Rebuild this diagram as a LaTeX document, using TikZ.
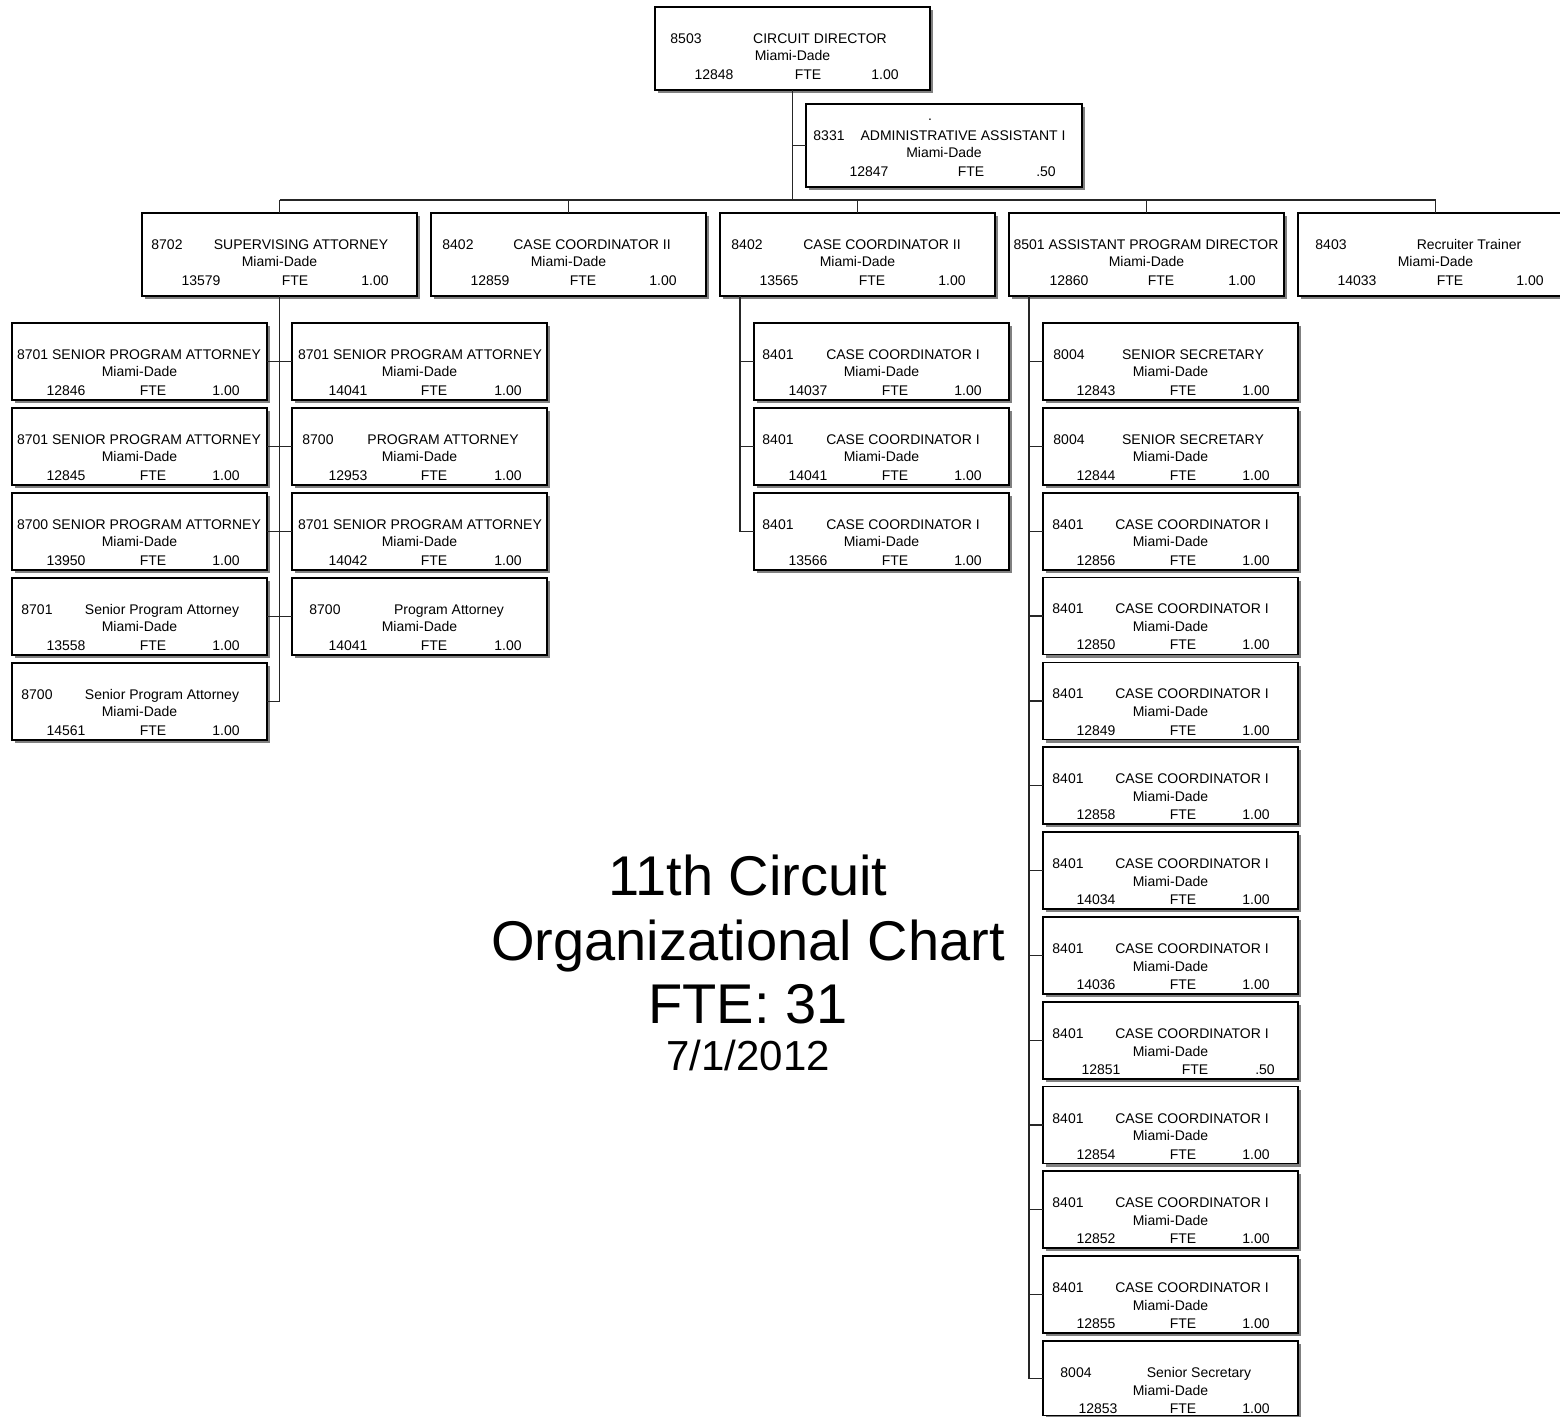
\documentclass[tikz,border=0pt]{standalone}
\usepackage{fontspec}
\setmainfont{Liberation Sans}
\usetikzlibrary{calc,shadows}

% position box: name, left, top, width, height (all in px units)
\newcommand\obox[5]{\node[orgbox, minimum width=#4*0.5pt, minimum height=#5*0.5pt] (#1) at (#2,#3) {};}
% text placed relative to the box's top-left corner
\newcounter{tx}
\newcommand\otxt[4]{\stepcounter{tx}\node[txt] (tx\arabic{tx}) at ($(#1.north west)+(#2,#3)$) {#4};}
% first row: code and title
\newcommand\ohead[5]{\otxt{#1}{#2}{36.5}{#3}\otxt{#1}{#4}{36.5}{#5}}
% second and third rows: location, position number, FTE and value
\newcommand\ofoot[6]{\stepcounter{tx}\node[txt] (tx\arabic{tx}) at ($(#1.north)+(0,54)$) {Miami-Dade};%
  \otxt{#1}{#2}{72.5}{#3}\otxt{#1}{#4}{72.5}{FTE}\otxt{#1}{#5}{72.5}{#6}}

\tikzset{
  orgbox/.style={rectangle, draw=black, line width=0.65pt, fill=white, inner sep=0pt, outer sep=0pt,
    anchor=north west,
    drop shadow={shadow xshift=1.6pt, shadow yshift=-1.6pt, fill=black!50, opacity=1}},
  txt/.style={anchor=base, inner sep=0pt, font=\fontsize{7}{8}\selectfont},
  link/.style={draw=black!85, line width=0.6pt},
  bigtitle/.style={anchor=base, inner sep=0pt, font=\fontsize{28}{32}\selectfont},
  datetitle/.style={anchor=base, inner sep=0pt, font=\fontsize{21}{24}\selectfont}
}

\begin{document}
\begin{tikzpicture}[x=0.5pt,y=-0.5pt]
\useasboundingbox (0,0) rectangle (1560,1417);
\clip (0,0) rectangle (1560,1417);
\fill[white] (0,0) rectangle (1560,1417);

% ---- top of the chart
\obox{dir}{655}{7}{275}{83}
\obox{adm}{806}{104}{276}{83}

% ---- second level
\obox{sup}{142}{213}{275}{83}
\obox{cca}{431}{213}{275}{83}
\obox{ccb}{720}{213}{275}{83}
\obox{apd}{1009}{213}{275}{83}
\obox{rec}{1298}{213}{275}{83}

% ---- attorneys
\obox{s1}{12}{323}{255}{77}
\obox{s2}{12}{408}{255}{77}
\obox{s3}{12}{493}{255}{77}
\obox{s4}{12}{578}{255}{77}
\obox{s5}{12}{663}{255}{77}
\obox{r1}{292}{323}{255}{77}
\obox{r2}{292}{408}{255}{77}
\obox{r3}{292}{493}{255}{77}
\obox{r4}{292}{578}{255}{77}

% ---- case coordinators
\obox{c1}{754}{323}{255}{77}
\obox{c2}{754}{408}{255}{77}
\obox{c3}{754}{493}{255}{77}

% ---- assistant program director's staff
\obox{a0}{1043}{323}{255}{77}
\obox{a1}{1043}{408}{255}{77}
\obox{a2}{1043}{493}{255}{77}
\obox{a3}{1043}{577.5}{255}{77}
\obox{a4}{1043}{662.5}{255}{77}
\obox{a5}{1043}{747}{255}{77}
\obox{a6}{1043}{832}{255}{77}
\obox{a7}{1043}{917}{255}{77}
\obox{a8}{1043}{1002}{255}{77}
\obox{a9}{1043}{1086.5}{255}{77}
\obox{a10}{1043}{1171}{255}{77}
\obox{a11}{1043}{1256}{255}{77}
\obox{a12}{1043}{1341}{255}{74.5}

% ---- connectors
\coordinate (bus) at (0,200);
\draw[link] (dir.south) -- (dir.south |- bus);
\draw[link] (adm.west) -- (adm.west -| dir.south);
\draw[link] (sup.north |- bus) -- (rec.north |- bus);
\foreach \b in {sup,cca,ccb,apd,rec}
  \draw[link] (\b.north) -- (\b.north |- bus);

\draw[link] (sup.south) |- (s5.east);
\foreach \b in {s1,s2,s3,s4}
  \draw[link] (\b.east) -- (\b.east -| sup.south);
\foreach \b in {r1,r2,r3,r4}
  \draw[link] (\b.west) -- (\b.west -| sup.south);

\coordinate (tb) at ($(ccb.south west)+(20,0)$);
\draw[link] (tb) |- (c3.west);
\foreach \b in {c1,c2}
  \draw[link] (\b.west) -- (\b.west -| tb);

\coordinate (tc) at ($(apd.south west)+(20,0)$);
\draw[link] (tc) |- (a12.west);
\foreach \b in {a0,a1,a2,a3,a4,a5,a6,a7,a8,a9,a10,a11}
  \draw[link] (\b.west) -- (\b.west -| tc);

% ---- box texts
\ohead{dir}{31}{8503}{165}{CIRCUIT DIRECTOR}
\ofoot{dir}{59}{12848}{153}{230}{1.00}

\otxt{adm}{124}{17}{.}
\ohead{adm}{23}{8331}{157}{ADMINISTRATIVE ASSISTANT I}
\ofoot{adm}{63}{12847}{165}{240}{.50}

\ohead{sup}{25}{8702}{159}{SUPERVISING ATTORNEY}
\ofoot{sup}{59}{13579}{153}{233}{1.00}
\ohead{cca}{27}{8402}{161}{CASE COORDINATOR II}
\ofoot{cca}{59}{12859}{152}{232}{1.00}
\ohead{ccb}{27}{8402}{162}{CASE COORDINATOR II}
\ofoot{ccb}{59}{13565}{152}{232}{1.00}
\otxt{apd}{137}{36.5}{8501 ASSISTANT PROGRAM DIRECTOR}
\ofoot{apd}{60}{12860}{152}{233}{1.00}
\ohead{rec}{33}{8403}{171}{Recruiter Trainer}
\ofoot{rec}{59}{14033}{152}{232}{1.00}

\otxt{s1}{127}{36.5}{8701 SENIOR PROGRAM ATTORNEY}
\ofoot{s1}{54}{12846}{141}{214}{1.00}
\otxt{s2}{127}{36.5}{8701 SENIOR PROGRAM ATTORNEY}
\ofoot{s2}{54}{12845}{141}{214}{1.00}
\otxt{s3}{127}{36.5}{8700 SENIOR PROGRAM ATTORNEY}
\ofoot{s3}{54}{13950}{141}{214}{1.00}
\ohead{s4}{25}{8701}{150}{Senior Program Attorney}
\ofoot{s4}{54}{13558}{141}{214}{1.00}
\ohead{s5}{25}{8700}{150}{Senior Program Attorney}
\ofoot{s5}{54}{14561}{141}{214}{1.00}

\otxt{r1}{128}{36.5}{8701 SENIOR PROGRAM ATTORNEY}
\ofoot{r1}{56}{14041}{142}{216}{1.00}
\ohead{r2}{26}{8700}{151}{PROGRAM ATTORNEY}
\ofoot{r2}{56}{12953}{142}{216}{1.00}
\otxt{r3}{128}{36.5}{8701 SENIOR PROGRAM ATTORNEY}
\ofoot{r3}{56}{14042}{142}{216}{1.00}
\ohead{r4}{33}{8700}{157}{Program Attorney}
\ofoot{r4}{56}{14041}{142}{216}{1.00}

\ohead{c1}{24}{8401}{149}{CASE COORDINATOR I}
\ofoot{c1}{54}{14037}{141}{214}{1.00}
\ohead{c2}{24}{8401}{149}{CASE COORDINATOR I}
\ofoot{c2}{54}{14041}{141}{214}{1.00}
\ohead{c3}{24}{8401}{149}{CASE COORDINATOR I}
\ofoot{c3}{54}{13566}{141}{214}{1.00}

\ohead{a0}{26}{8004}{150}{SENIOR SECRETARY}
\ofoot{a0}{53}{12843}{140}{213}{1.00}
\ohead{a1}{26}{8004}{150}{SENIOR SECRETARY}
\ofoot{a1}{53}{12844}{140}{213}{1.00}
\ohead{a2}{25}{8401}{149}{CASE COORDINATOR I}
\ofoot{a2}{53}{12856}{140}{213}{1.00}
\ohead{a3}{25}{8401}{149}{CASE COORDINATOR I}
\ofoot{a3}{53}{12850}{140}{213}{1.00}
\ohead{a4}{25}{8401}{149}{CASE COORDINATOR I}
\ofoot{a4}{53}{12849}{140}{213}{1.00}
\ohead{a5}{25}{8401}{149}{CASE COORDINATOR I}
\ofoot{a5}{53}{12858}{140}{213}{1.00}
\ohead{a6}{25}{8401}{149}{CASE COORDINATOR I}
\ofoot{a6}{53}{14034}{140}{213}{1.00}
\ohead{a7}{25}{8401}{149}{CASE COORDINATOR I}
\ofoot{a7}{53}{14036}{140}{213}{1.00}
\ohead{a8}{25}{8401}{149}{CASE COORDINATOR I}
\ofoot{a8}{58}{12851}{152}{222}{.50}
\ohead{a9}{25}{8401}{149}{CASE COORDINATOR I}
\ofoot{a9}{53}{12854}{140}{213}{1.00}
\ohead{a10}{25}{8401}{149}{CASE COORDINATOR I}
\ofoot{a10}{53}{12852}{140}{213}{1.00}
\ohead{a11}{25}{8401}{149}{CASE COORDINATOR I}
\ofoot{a11}{53}{12855}{140}{213}{1.00}
\ohead{a12}{33}{8004}{156}{Senior Secretary}
\ofoot{a12}{55}{12853}{140}{213}{1.00}

% ---- chart title
\node[bigtitle] (t1) at (748,895) {11th Circuit};
\node[bigtitle] (t2) at (748,960) {Organizational Chart};
\node[bigtitle] (t3) at (748,1023) {FTE: 31};
\node[datetitle] (t4) at (748,1070) {7/1/2012};
\end{tikzpicture}
\end{document}
